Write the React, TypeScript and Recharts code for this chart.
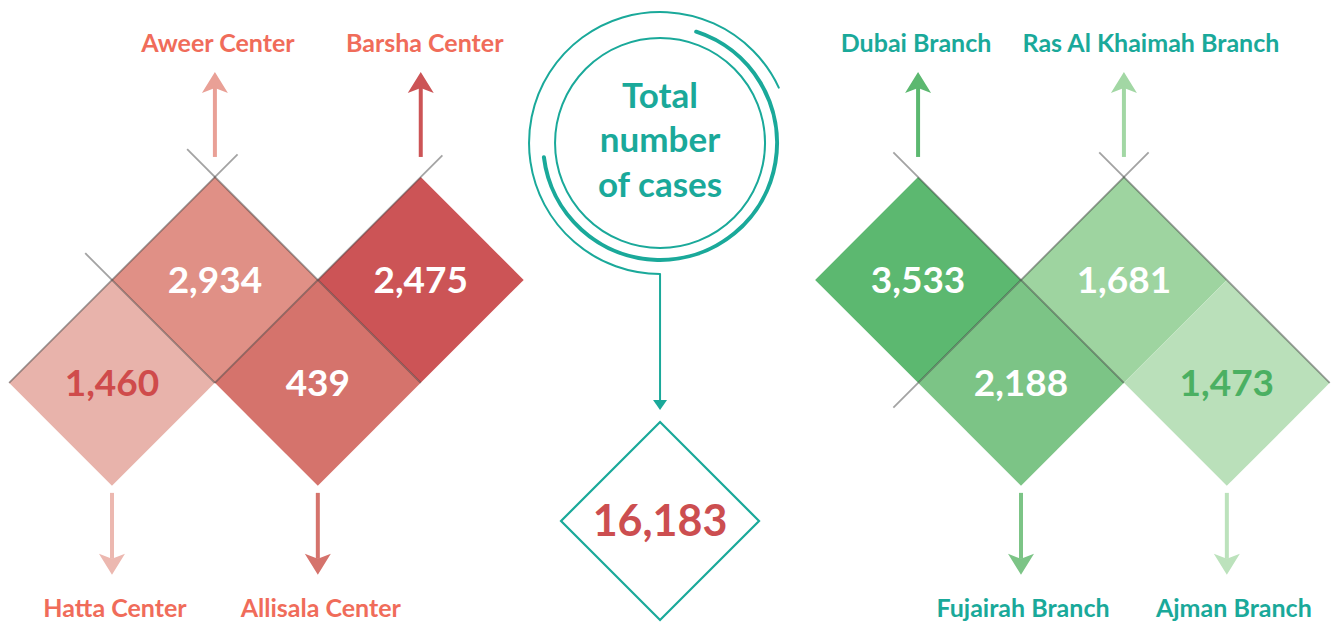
import {ScatterChart, Scatter, XAxis, YAxis} from 'recharts';

const centerNames = ['Aweer Center', 'Barsha Center', 'Hatta Center', 'Allisala Center'];
const centerCases = [2934, 2475, 1460, 439];
const branchNames = ['Dubai Branch', 'Ras Al Khaimah Branch', 'Fujairah Branch', 'Ajman Branch'];
const branchCases = [3533, 1681, 2188, 1473];
const totalTitle = ['Total', 'number', 'of cases'];
const totalCases = 16183;

// layout: each tile sits in a (col, row) slot of its group's diamond grid
const centerSlots = [[1, 0], [3, 0], [0, 1], [2, 1]];
const branchSlots = [[0, 0], [2, 0], [1, 1], [3, 1]];

const W = 1338;
const HGT = 622;
const X_UNITS = 13;
const UNIT = W / X_UNITS; // one grid step in px = half a tile diagonal
const LEFT_X = 1.088;
const RIGHT_X = 8.92;
const ROW_Y = 2.72;
const MID_X = 6.413;
const RING_Y = 1.389;
const TOTAL_Y = 5.062;

const TEAL = '#1aa99a';
const FONT = 'Lato, "Open Sans", sans-serif';

const centerStyle = {
  fills: ['#e09086', '#cc5456', '#e8b3ab', '#d5736c'],
  arrows: ['#e9a096', '#cc5456', '#ecb8b0', '#d5736c'],
  numbers: ['#ffffff', '#ffffff', '#cf4b4b', '#ffffff'],
  label: '#f06c5a',
  shift: [3, 4, 3, 3],
};
const branchStyle = {
  fills: ['#5cb870', '#9ed4a0', '#7cc486', '#bae0ba'],
  arrows: ['#5cb870', '#a2d7a4', '#7cc486', '#bce2bc'],
  numbers: ['#ffffff', '#ffffff', '#ffffff', '#4bb062'],
  label: TEAL,
  shift: [-2, 27, 2, 7],
};

// shadow seams along tile edges, local grid coords [x1, y1, x2, y2]
const centerSeams = [
  [0.73, -1.27, 3, 1],
  [1.22, -1.22, -1, 1],
  [-0.26, -0.26, 1, 1],
  [3.21, -1.21, 1, 1],
];
const branchSeams = [
  [-0.24, -1.24, 2, 1],
  [1.76, -1.24, 4, 1],
  [2.24, -1.24, -0.24, 1.24],
];

const centerData = centerNames.map((name, i) => ({
  x: LEFT_X + centerSlots[i][0],
  y: ROW_Y + centerSlots[i][1],
  row: centerSlots[i][1],
  name,
  value: centerCases[i],
  index: i,
}));
const branchData = branchNames.map((name, i) => ({
  x: RIGHT_X + branchSlots[i][0],
  y: ROW_Y + branchSlots[i][1],
  row: branchSlots[i][1],
  name,
  value: branchCases[i],
  index: i,
}));
const seamData = [
  ...centerSeams.map((s) => ({x: LEFT_X + s[0], y: ROW_Y + s[1], dx: s[2] - s[0], dy: s[3] - s[1]})),
  ...branchSeams.map((s) => ({x: RIGHT_X + s[0], y: ROW_Y + s[1], dx: s[2] - s[0], dy: s[3] - s[1]})),
];
const ringData = [{x: MID_X, y: RING_Y}];
const totalData = [{x: MID_X, y: TOTAL_Y, value: totalCases}];

const fmt = (v: number) => v.toLocaleString('en-US');

function Arrow({x, tail, tip, color, width = 4, head = 21, half = 13}: any) {
  const dir = tip > tail ? 1 : -1;
  const base = tip - dir * head;
  const notch = base + dir * 5;
  return (
    <g>
      <line x1={x} y1={tail} x2={x} y2={notch} stroke={color} strokeWidth={width} />
      <polygon
        points={`${x},${tip} ${x + half},${base} ${x},${notch} ${x - half},${base}`}
        fill={color}
      />
    </g>
  );
}

function makeTile(style: typeof centerStyle) {
  return (props: any) => {
    const {cx, cy, payload} = props;
    const i = payload.index;
    const up = payload.row === 0;
    const h = UNIT;
    return (
      <g>
        <polygon
          points={`${cx},${cy - h} ${cx + h},${cy} ${cx},${cy + h} ${cx - h},${cy}`}
          fill={style.fills[i]}
        />
        <text
          x={cx}
          y={cy + 13}
          textAnchor="middle"
          fontFamily={FONT}
          fontWeight={700}
          fontSize={37}
          fill={style.numbers[i]}
        >
          {fmt(payload.value)}
        </text>
        {up ? (
          <Arrow x={cx} tail={cy - 123} tip={cy - 208} color={style.arrows[i]} />
        ) : (
          <Arrow x={cx} tail={cy + 110} tip={cy + 192} color={style.arrows[i]} />
        )}
        <text
          x={cx + style.shift[i]}
          y={up ? cy - 228 : cy + 234}
          textAnchor="middle"
          fontFamily={FONT}
          fontWeight={700}
          fontSize={25}
          fill={style.label}
        >
          {payload.name}
        </text>
      </g>
    );
  };
}

function Seam(props: any) {
  const {cx, cy, payload} = props;
  return (
    <line
      x1={cx}
      y1={cy}
      x2={cx + payload.dx * UNIT}
      y2={cy + payload.dy * UNIT}
      stroke="#333333"
      strokeOpacity={0.45}
      strokeWidth={1.8}
    />
  );
}

const pt = (cx: number, cy: number, r: number, deg: number) => {
  const a = (deg * Math.PI) / 180;
  return [cx + r * Math.cos(a), cy + r * Math.sin(a)];
};
const arc = (cx: number, cy: number, r: number, a0: number, a1: number) => {
  const [x0, y0] = pt(cx, cy, r, a0);
  const [x1, y1] = pt(cx, cy, r, a1);
  const large = a1 - a0 > 180 ? 1 : 0;
  return `M${x0},${y0} A${r},${r} 0 ${large} 1 ${x1},${y1}`;
};

function Ring(props: any) {
  const {cx, cy} = props;
  return (
    <g>
      <circle cx={cx} cy={cy} r={105} fill="none" stroke={TEAL} strokeWidth={2} />
      <path d={arc(cx, cy, 117, 288, 533)} fill="none" stroke={TEAL} strokeWidth={4} strokeLinecap="round" />
      <path d={arc(cx, cy, 131, 90, 335)} fill="none" stroke={TEAL} strokeWidth={2} strokeLinecap="round" />
      {totalTitle.map((t, k) => (
        <text
          key={t}
          x={cx}
          y={cy - 35 + k * 44.5}
          textAnchor="middle"
          fontFamily={FONT}
          fontWeight={700}
          fontSize={35}
          fill={TEAL}
        >
          {t}
        </text>
      ))}
    </g>
  );
}

function TotalTile(props: any) {
  const {cx, cy, payload} = props;
  const h = 99;
  return (
    <g>
      <line x1={cx} y1={cy - 247} x2={cx} y2={cy - 116} stroke={TEAL} strokeWidth={2} />
      <polygon
        points={`${cx},${cy - 111} ${cx + 7},${cy - 121} ${cx - 7},${cy - 121}`}
        fill={TEAL}
      />
      <polygon
        points={`${cx},${cy - h} ${cx + h},${cy} ${cx},${cy + h} ${cx - h},${cy}`}
        fill="#ffffff"
        stroke={TEAL}
        strokeWidth={2.2}
      />
      <text
        x={cx}
        y={cy + 15}
        textAnchor="middle"
        fontFamily={FONT}
        fontWeight={700}
        fontSize={43}
        fill="#cc4e50"
      >
        {fmt(payload.value)}
      </text>
    </g>
  );
}

export default function App() {
  return (
    <div style={{position: 'absolute', left: 0, top: 0, width: W, height: HGT, background: '#fff'}}>
      <ScatterChart width={W} height={HGT} margin={{top: 0, right: 0, bottom: 0, left: 0}}>
        <XAxis type="number" dataKey="x" domain={[0, X_UNITS]} scale="linear" allowDataOverflow hide />
        <YAxis type="number" dataKey="y" domain={[0, HGT / UNIT]} scale="linear" allowDataOverflow reversed hide />
        <Scatter data={centerData} shape={makeTile(centerStyle)} isAnimationActive={false} />
        <Scatter data={branchData} shape={makeTile(branchStyle)} isAnimationActive={false} />
        <Scatter data={seamData} shape={Seam} isAnimationActive={false} />
        <Scatter data={ringData} shape={Ring} isAnimationActive={false} />
        <Scatter data={totalData} shape={TotalTile} isAnimationActive={false} />
      </ScatterChart>
    </div>
  );
}
